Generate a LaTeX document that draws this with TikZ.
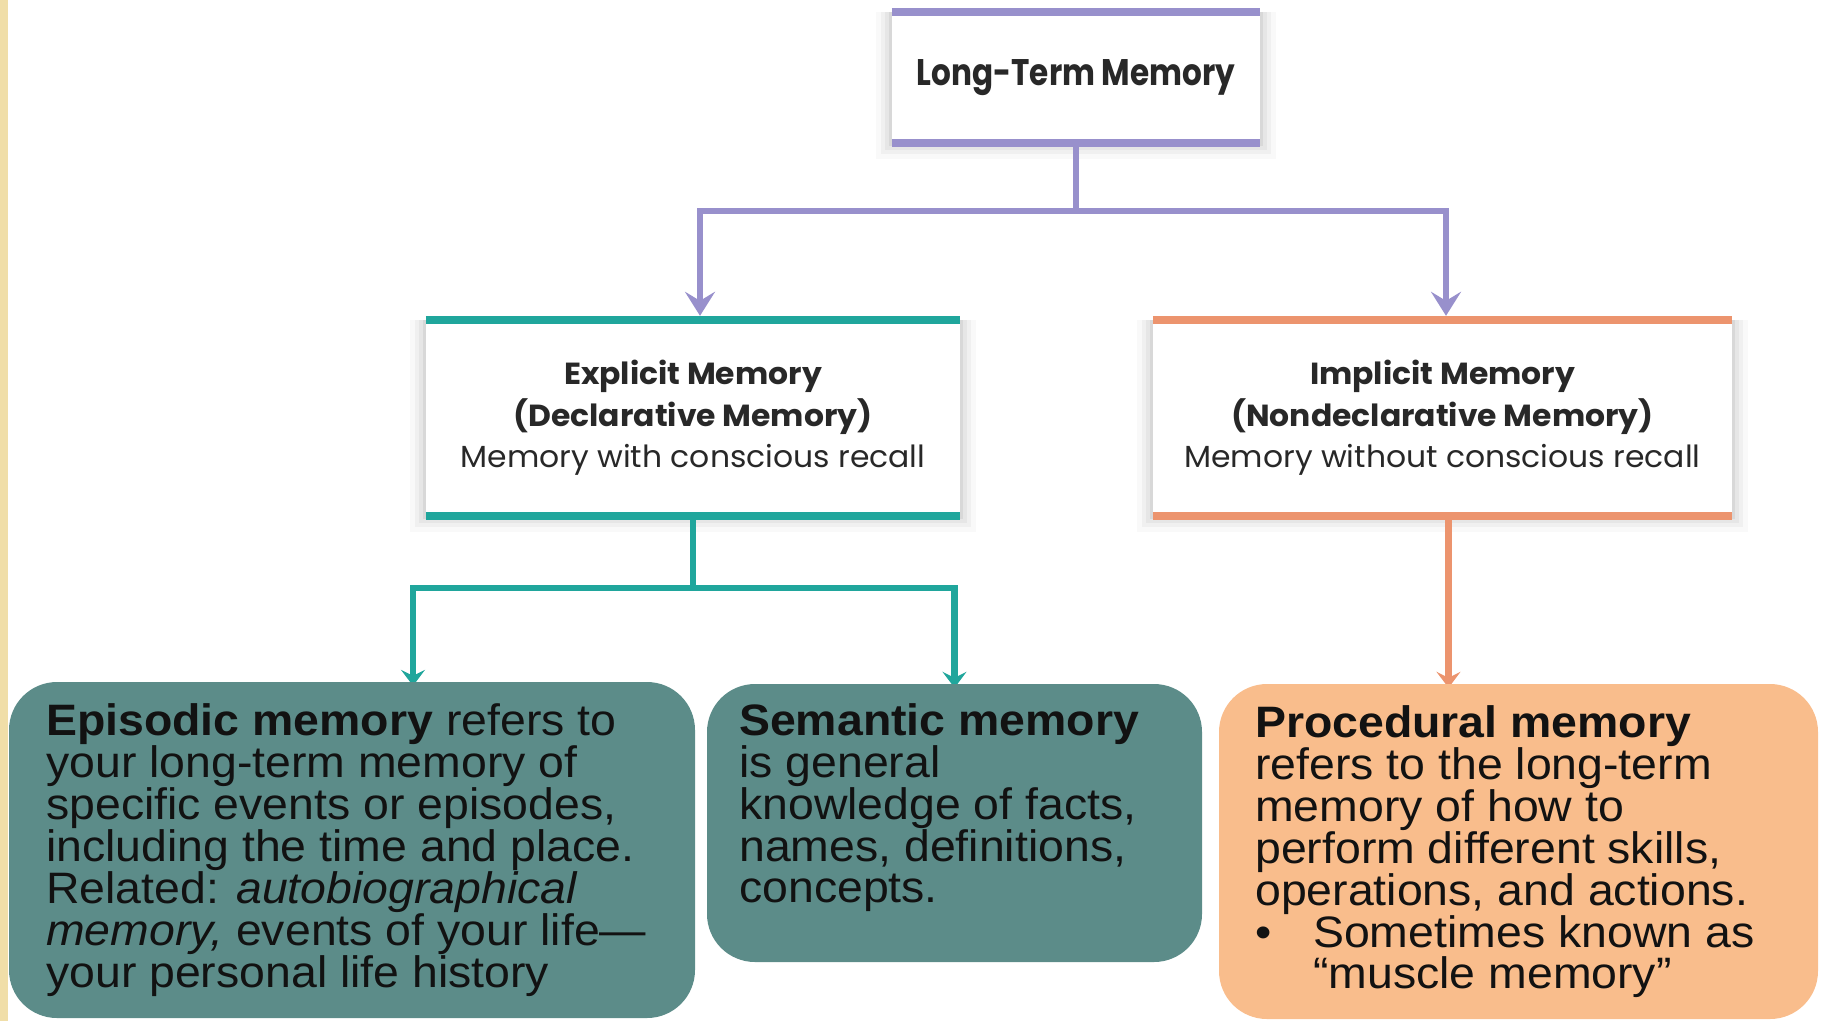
\documentclass[tikz,border=0pt]{standalone}
\usepackage{fontspec}
\setmainfont{Liberation Sans}[FakeStretch=1.055]
\newfontfamily\futfont[FakeStretch=1.03]{Poppins}
\newfontfamily\futcfont[FakeStretch=0.84]{Poppins}
\usetikzlibrary{arrows.meta}
\definecolor{lav}{RGB}{152,144,204}
\definecolor{tealln}{RGB}{32,166,156}
\definecolor{orgln}{RGB}{236,148,110}
\definecolor{tealbox}{RGB}{92,140,137}
\definecolor{orgbox}{RGB}{249,189,140}
\definecolor{beige}{RGB}{240,222,168}
\definecolor{toptext}{RGB}{40,40,40}
\definecolor{bottext}{RGB}{18,18,18}
\pgfdeclarelayer{bg}
\pgfsetlayers{bg,main}
\begin{document}
\begin{tikzpicture}[x=1pt,y=-1pt,
  hdrbox/.style={draw=none,fill=white,inner sep=0pt,align=center,text=toptext,
    font=\futfont\fontsize{30.5}{41.5}\selectfont},
  bar/.style={line width=8pt},
  conn/.style={line width=6.5pt},
  bigtip/.style={-{Stealth[length=24pt,width=30pt,inset=9pt]}},
  smalltip/.style={-{Stealth[length=16pt,width=24pt,inset=6pt]}},
  membox/.style={rounded corners=48pt,inner sep=0pt,draw=none},
  memtext/.style={anchor=north west,inner sep=0pt,align=left,text=bottext,
    font=\fontsize{44}{41}\selectfont}
]
\useasboundingbox (0,0) rectangle (1821,1021);
\fill[beige] (0,0) rectangle (8,1021);

% header boxes
\node[hdrbox,minimum width=368pt,minimum height=131pt] (ltm) at (1076,77.5)
  {\futcfont\fontsize{37}{41}\selectfont\textbf{Long-Term Memory}};
\node[hdrbox,minimum width=534pt,minimum height=196pt] (exp) at (693,418)
  {\textbf{Explicit Memory}\\\textbf{(Declarative Memory)}\\Memory with conscious recall};
\node[hdrbox,minimum width=579pt,minimum height=196pt] (imp) at (1442.5,418)
  {\textbf{Implicit Memory}\\\textbf{(Nondeclarative Memory)}\\Memory without conscious recall};

\draw[bar,lav] (ltm.north west) -- (ltm.north east);
\draw[bar,lav] (ltm.south west) -- (ltm.south east);
\draw[bar,tealln] (exp.north west) -- (exp.north east);
\draw[bar,tealln] (exp.south west) -- (exp.south east);
\draw[bar,orgln] (imp.north west) -- (imp.north east);
\draw[bar,orgln] (imp.south west) -- (imp.south east);

% memory boxes
\node[membox,fill=tealbox,minimum width=686pt,minimum height=336pt] (epi) at (352,850) {};
\node[membox,fill=tealbox,minimum width=495pt,minimum height=278pt] (sem) at (954.5,823) {};
\node[membox,fill=orgbox,minimum width=599pt,minimum height=335pt] (pro) at (1518.5,851.5) {};

\node[memtext] (epit) at (46,703)
  {\textbf{Episodic memory} refers to\\
   your long-term memory of\\
   specific events or episodes,\\
   including the time and place.\\
   Related: \textit{autobiographical}\\
   \textit{memory,} events of your life—\\
   your personal life history};
\node[memtext] (semt) at (739,703)
  {\textbf{Semantic memory}\\
   is general\\
   knowledge of facts,\\
   names, definitions,\\
   concepts.};
\node[memtext] (prot) at (1255,705)
  {\textbf{Procedural memory}\\
   refers to the long-term\\
   memory of how to\\
   perform different skills,\\
   operations, and actions.\\
   \makebox[58pt][l]{\textbullet}Sometimes known as\\
   \hspace*{58pt}“muscle memory”};

\begin{pgfonlayer}{bg}
  \foreach \n in {ltm,exp,imp}{
    \foreach \s/\o in {16/0.025,11/0.035,7/0.045,3/0.06}{
      \fill[black,opacity=\o] ([xshift=-\s pt,yshift=-\s pt]\n.south west)
        rectangle ([xshift=\s pt]\n.north east);
    }
  }
  \coordinate (pj) at (ltm.south |- 0,211);
  \draw[conn,lav] (ltm.south) -- (pj);
  \draw[conn,lav,bigtip] (pj) -| ([xshift=7pt,yshift=4pt]exp.north);
  \draw[conn,lav,bigtip] (pj) -| ([xshift=3.5pt,yshift=4pt]imp.north);
  \coordinate (tj) at (exp.south |- 0,588);
  \draw[conn,tealln] (exp.south) -- (tj);
  \draw[conn,tealln,smalltip] (tj) -| ([xshift=61pt,yshift=-4pt]epi.north);
  \draw[conn,tealln,smalltip] (tj) -| ([yshift=-4pt]sem.north);
  \coordinate (os) at ([xshift=6pt]imp.south);
  \draw[conn,orgln,smalltip] (os) -- ([yshift=-4pt]os |- pro.north);
\end{pgfonlayer}
\end{tikzpicture}
\end{document}
